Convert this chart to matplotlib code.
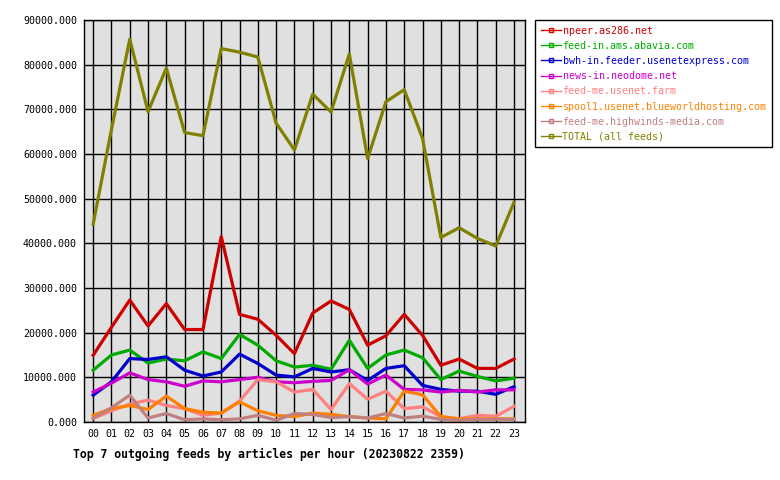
import matplotlib
matplotlib.use('Agg')
import matplotlib.pyplot as plt
from matplotlib.ticker import FuncFormatter
from matplotlib.lines import Line2D

hours = ['%02d' % h for h in range(24)]

npeer = [14950, 21200, 27300, 21500, 26500, 20700, 20700, 41500, 24100, 23000, 19400, 15300,
         24400, 27100, 25200, 17200, 19300, 24100, 19400, 12700, 14100, 12000, 12000, 14100]
abavia = [11600, 15000, 16100, 13200, 14100, 13700, 15700, 14200, 19600, 17200, 13700, 12300,
          12700, 11800, 18300, 12000, 15000, 16100, 14400, 9500, 11400, 10200, 9200, 9800]
usenetexpress = [6000, 9000, 14200, 14000, 14600, 11600, 10300, 11200, 15200, 13100, 10500, 10100,
                 12000, 11200, 11700, 9300, 12000, 12600, 8200, 7300, 6900, 6900, 6200, 7900]
neodome = [6700, 8700, 11000, 9500, 9000, 8000, 9200, 9000, 9500, 10000, 9000, 8800,
           9100, 9300, 11700, 8500, 10500, 7300, 7200, 6700, 7100, 6700, 7200, 7200]
usenetfarm = [800, 2500, 4000, 4900, 3700, 3000, 1500, 2000, 4700, 9500, 9000, 6700,
              7300, 2800, 8600, 5100, 6900, 3000, 3400, 1200, 700, 1500, 1300, 3500]
blueworld = [1500, 3000, 3700, 2800, 5800, 3000, 2200, 2000, 4500, 2500, 1500, 1200,
             2000, 1700, 1200, 900, 700, 6900, 6100, 1200, 700, 700, 700, 700]
highwinds = [800, 3200, 6000, 900, 1900, 500, 700, 500, 700, 1500, 400, 1900,
             1700, 1000, 1200, 900, 1900, 900, 1300, 600, 400, 600, 600, 600]
total = [44300, 65500, 85700, 69500, 79200, 64800, 64100, 83600, 82800, 81700, 66900, 60900,
         73400, 69400, 82400, 59000, 71700, 74400, 63500, 41300, 43500, 41100, 39400, 49200]

names = ['npeer.as286.net', 'feed-in.ams.abavia.com', 'bwh-in.feeder.usenetexpress.com',
         'news-in.neodome.net', 'feed-me.usenet.farm', 'spool1.usenet.blueworldhosting.com',
         'feed-me.highwinds-media.com', 'TOTAL (all feeds)']
series = [npeer, abavia, usenetexpress, neodome, usenetfarm, blueworld, highwinds, total]
colors = ['#cc0000', '#00aa00', '#0000cc', '#cc00cc', '#ff8080', '#ff8000', '#c08080', '#808000']

plt.rcParams['font.family'] = 'DejaVu Sans Mono'

fig = plt.figure(figsize=(7.8, 4.8), dpi=100)
ax = fig.add_axes([84/780, 58/480, 441/780, 402/480])
ax.set_facecolor('#e0e0e0')

x = list(range(24))
for name, vals, c in zip(names, series, colors):
    ax.plot(x, vals, color=c, lw=2.3, label=name)

ax.set_xlim(-0.5, 23.6)
ax.set_ylim(0, 90000)
ax.set_xticks(x)
ax.set_xticklabels(hours)
ax.set_yticks(range(0, 90001, 10000))
ax.yaxis.set_major_formatter(FuncFormatter(lambda v, p: '%.3f' % v))
ax.grid(True, color='black', lw=1.0)
ax.set_axisbelow(True)
ax.tick_params(length=0, labelsize=7.2, pad=5)
for s in ax.spines.values():
    s.set_color('black')
    s.set_linewidth(1.0)

ax.set_xlabel('Top 7 outgoing feeds by articles per hour (20230822 2359)',
              fontsize=8.3, fontweight='bold', loc='left')
ax.xaxis.set_label_coords(-0.025, -0.065)

# legend: thin line with small open square in the middle
leg_h = [Line2D([0], [0], color=c, lw=1.0, marker='s', markersize=2.5,
                markerfacecolor='none', markeredgecolor=c) for c in colors]
leg = fig.legend(leg_h, names, loc='upper left', bbox_to_anchor=(535/780, 1 - 20/480),
                 fontsize=7.2, frameon=True, fancybox=False, edgecolor='black',
                 handlelength=2.0, handletextpad=0.2, labelspacing=0.52,
                 borderpad=0.55, borderaxespad=0, framealpha=1)
leg.get_frame().set_linewidth(1.0)
for t, c in zip(leg.get_texts(), colors):
    t.set_color(c)

fig.savefig('out.png', dpi=100)
